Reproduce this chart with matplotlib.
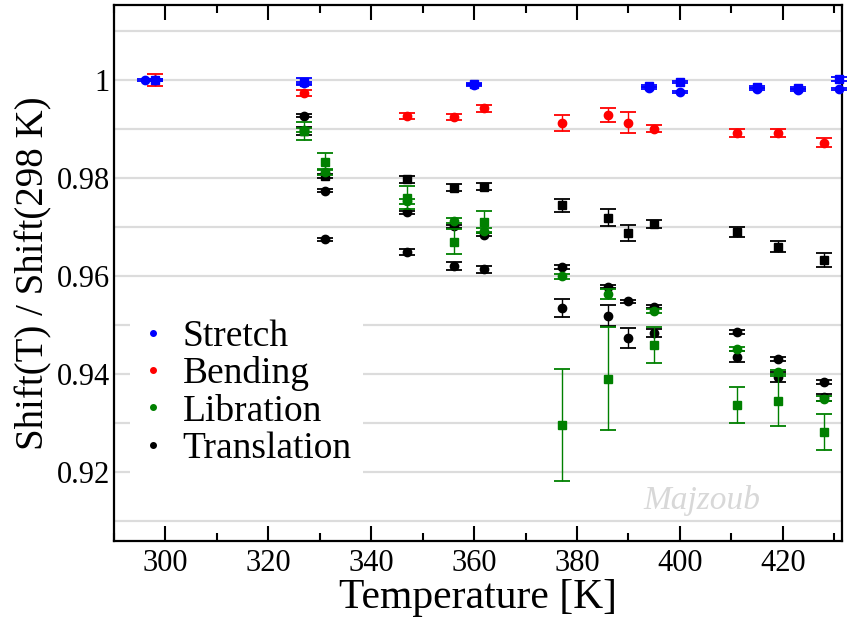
import matplotlib
matplotlib.use('Agg')
import matplotlib.pyplot as plt
from matplotlib.lines import Line2D
from matplotlib.ticker import MultipleLocator, FuncFormatter

plt.rcParams['font.family'] = ['Liberation Serif', 'DejaVu Serif']

# Stretch (blue)
stretch_circ_T = [296, 298, 327, 360, 394, 400, 415, 423, 431]
stretch_circ_v = [1.0, 1.0, 0.9993, 0.9989, 0.9983, 0.9976, 0.9982, 0.9980, 0.9982]
stretch_circ_e = [0.0002, 0.0002, 0.0002, 0.0002, 0.0002, 0.0002, 0.0002, 0.0002, 0.0002]
stretch_sq_T = [298, 327, 360, 394, 400, 415, 423, 431]
stretch_sq_v = [1.0, 0.9996, 0.9991, 0.9988, 0.9995, 0.9986, 0.9984, 1.0002]
stretch_sq_e = [0.0002, 0.0007, 0.0002, 0.0002, 0.0002, 0.0002, 0.0002, 0.0004]

# Bending (red)
bend_T = [298, 327, 347, 356, 362, 377, 386, 390, 395, 411, 419, 428]
bend_v = [1.0, 0.9974, 0.99265, 0.99238, 0.9942, 0.99116, 0.99286, 0.99129,
          0.99007, 0.98925, 0.98912, 0.98722]
bend_e = [0.0012, 0.0006, 0.0006, 0.0006, 0.0007, 0.0016, 0.0014, 0.0021,
          0.00075, 0.0008, 0.0008, 0.00085]

# Libration (green)
lib_circ_T = [327, 331, 347, 356, 362, 377, 386, 395, 411, 419, 428]
lib_circ_v = [0.9898, 0.9813, 0.9752, 0.9713, 0.9692, 0.9599, 0.9563, 0.9529,
              0.9451, 0.9404, 0.9349]
lib_circ_e = [0.0004, 0.0006, 0.0006, 0.0005, 0.0005, 0.0005, 0.0011, 0.0004,
              0.0004, 0.0005, 0.0005]
lib_sq_T = [327, 331, 347, 356, 362, 377, 386, 395, 411, 419, 428]
lib_sq_v = [0.9896, 0.9833, 0.9760, 0.9670, 0.9711, 0.9296, 0.9390, 0.9459,
            0.9336, 0.9345, 0.9282]
lib_sq_e = [0.0018, 0.0017, 0.0023, 0.0025, 0.0021, 0.0114, 0.0105, 0.0037,
            0.0037, 0.0051, 0.0037]

# Translation (black)
trans_circ_T = [327, 331, 331, 347, 347, 356, 356, 362, 362, 377, 377, 386, 386,
                390, 390, 395, 395, 411, 411, 419, 419, 428, 428]
trans_circ_v = [0.9927, 0.9774, 0.9675, 0.9730, 0.9648, 0.9701, 0.9621, 0.9684,
                0.9614, 0.9618, 0.9534, 0.9578, 0.9519, 0.9548, 0.9473, 0.9537,
                0.9483, 0.9486, 0.9435, 0.9431, 0.9393, 0.9384, 0.9352]
trans_circ_e = [0.0003, 0.0003, 0.0003, 0.0003, 0.0006, 0.0003, 0.0008, 0.0003,
                0.0007, 0.0004, 0.0018, 0.0003, 0.0021, 0.0003, 0.0021, 0.0003,
                0.0008, 0.0004, 0.0011, 0.0004, 0.0010, 0.0004, 0.0008]
trans_sq_T = [327, 331, 347, 356, 362, 377, 386, 390, 395, 411, 419, 428]
trans_sq_v = [0.9896, 0.9804, 0.9797, 0.9780, 0.9782, 0.9744, 0.9719, 0.9687,
              0.9706, 0.9689, 0.9660, 0.9633]
trans_sq_e = [0.0008, 0.0004, 0.0007, 0.0007, 0.0007, 0.0013, 0.0017, 0.0016,
              0.0008, 0.0010, 0.0012, 0.0014]

labels = ['Stretch', 'Bending', 'Libration', 'Translation']
colors = ['blue', 'red', 'green', 'black']

fig = plt.figure(figsize=(8.47, 6.18), dpi=100)
ax = fig.add_axes([114 / 847, 77 / 618, 728 / 847, 536 / 618])


def points(T, v, e, color, marker, ms, z):
    ax.errorbar(T, v, yerr=e, fmt=marker, color=color, ms=ms, mec=color,
                elinewidth=1.0, capsize=5.8, capthick=1.3, zorder=z,
                clip_on=False)


points(trans_sq_T, trans_sq_v, trans_sq_e, 'black', 's', 5.5, 3)
points(trans_circ_T, trans_circ_v, trans_circ_e, 'black', 'o', 6, 3)
points(lib_sq_T, lib_sq_v, lib_sq_e, 'green', 's', 5.5, 4)
points(lib_circ_T, lib_circ_v, lib_circ_e, 'green', 'o', 6, 4)
points(bend_T, bend_v, bend_e, 'red', 'o', 6, 5)
points(stretch_sq_T, stretch_sq_v, stretch_sq_e, 'blue', 's', 5.5, 6)
points(stretch_circ_T, stretch_circ_v, stretch_circ_e, 'blue', 'o', 6, 6)

ax.set_xlim(290, 431.5)
ax.set_ylim(0.9059, 1.0153)

ax.xaxis.set_major_locator(MultipleLocator(20))
ax.xaxis.set_minor_locator(MultipleLocator(10))
ax.yaxis.set_major_locator(MultipleLocator(0.02))
ax.yaxis.set_minor_locator(MultipleLocator(0.01))
ax.yaxis.set_major_formatter(FuncFormatter(lambda y, p: '%g' % round(y, 3)))

ax.tick_params(axis='x', which='major', direction='in', top=True, length=11,
               width=1.5, labelsize=22, pad=6)
ax.tick_params(axis='x', which='minor', direction='in', top=True, length=6,
               width=1.5)
ax.tick_params(axis='y', which='both', length=0, labelsize=22, pad=3)

ax.grid(True, axis='y', which='both', color='#dcdcdc', lw=1.6, zorder=0)
ax.set_axisbelow(True)
for s in ax.spines.values():
    s.set_linewidth(1.6)

ax.set_xlabel('Temperature [K]', fontsize=30)
ax.xaxis.set_label_coords(0.5, -0.07)
ax.set_ylabel('Shift(T) / Shift(298 K)', fontsize=28)
ax.yaxis.set_label_coords(-0.085, 0.5)

handles = [Line2D([], [], ls='none', marker='o', ms=4, color=c) for c in colors]
leg = fig.legend(handles, labels, loc='upper left',
                 bbox_to_anchor=(130 / 847, 1 - 308 / 618), fontsize=27,
                 frameon=True, framealpha=1, edgecolor='none', fancybox=False,
                 borderpad=0.3, labelspacing=0.07, handlelength=0.6,
                 handletextpad=0.5, borderaxespad=0)
leg.set_zorder(10)

fig.text(702 / 847, 1 - 500 / 618, 'Majzoub', fontsize=24, style='italic',
         color='#d8d8d8', ha='center', va='center')

fig.savefig('out.png', dpi=100)
